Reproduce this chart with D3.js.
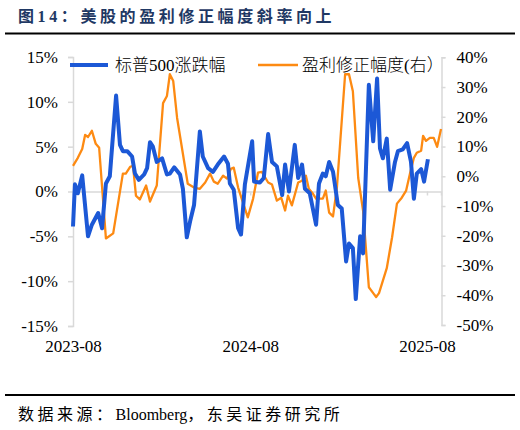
<!DOCTYPE html>
<html lang="zh">
<head>
<meta charset="UTF-8">
<title>美股的盈利修正幅度斜率向上</title>
<script src="https://cdn.jsdelivr.net/npm/d3@7"></script>
<style>
  body { margin: 0; background: #fff; }
  text { font-family: "Liberation Serif", "Noto Sans CJK SC", serif; }
</style>
</head>
<body>
<svg width="520" height="430"></svg>
<script>

    // 标普500涨跌幅 (左轴, %)
    var spxDates = ["2023-08-01","2023-08-05","2023-08-11","2023-08-20","2023-09-01","2023-09-09","2023-09-22","2023-09-30",
        "2023-10-08","2023-10-16","2023-10-29","2023-11-06","2023-11-12","2023-11-21","2023-12-01","2023-12-07","2023-12-15",
        "2023-12-26","2024-01-01","2024-01-07","2024-01-13","2024-01-21","2024-02-01","2024-02-11","2024-02-17","2024-02-26",
        "2024-03-09","2024-03-15","2024-03-23","2024-03-30","2024-04-07","2024-04-19","2024-04-25","2024-05-06","2024-05-16",
        "2024-05-26","2024-06-08","2024-06-16","2024-06-20","2024-06-28","2024-07-07","2024-07-13","2024-07-21","2024-08-05",
        "2024-08-09","2024-08-21","2024-08-29","2024-09-07","2024-09-15","2024-09-25","2024-10-06","2024-10-12","2024-10-20",
        "2024-11-01","2024-11-08","2024-11-16","2024-11-22","2024-12-02","2024-12-15","2024-12-21","2024-12-29","2025-01-04",
        "2025-01-11","2025-01-19","2025-01-29","2025-02-06","2025-02-15","2025-02-21","2025-03-01","2025-03-07","2025-03-16",
        "2025-03-22","2025-04-03","2025-04-12","2025-04-20","2025-04-26","2025-05-02","2025-05-10","2025-05-17","2025-05-27",
        "2025-06-02","2025-06-12","2025-06-21","2025-06-29","2025-07-05","2025-07-11","2025-07-20","2025-07-26","2025-08-03"];
    var spxValues = [-3.9,0.8,-0.2,1.8,-5.0,-3.7,-2.4,-4.1,
        0.9,1.7,10.7,5.2,4.5,4.5,3.9,2.0,1.3,
        1.9,2.6,5.5,5.0,3.3,3.7,1.9,2.0,2.7,
        1.9,0.3,-5.1,-3.3,-1.5,6.7,3.9,2.6,2.2,
        3.0,3.9,3.1,0.9,0.2,-4.1,-4.8,0.8,5.6,
        1.1,1.0,1.5,6.4,3.3,2.8,-0.4,3.0,0.0,
        5.2,1.5,3.0,0.3,-0.2,-3.7,0.9,2.0,1.7,
        3.3,2.2,-1.5,-1.9,-7.8,-5.8,-6.3,-12.0,-5.0,
        -6.9,11.9,5.6,12.6,4.8,3.7,5.9,0.2,3.3,
        4.5,4.7,5.4,3.3,-0.8,2.0,2.5,1.1,3.6];

    // 盈利修正幅度 (右轴, %)
    var revDates = ["2023-08-01","2023-08-11","2023-08-20","2023-08-26","2023-09-01","2023-09-09","2023-09-17","2023-09-24",
        "2023-10-08","2023-10-23","2023-11-12","2023-11-18","2023-11-27","2023-12-03","2023-12-09","2023-12-17","2023-12-30",
        "2024-01-07","2024-01-21","2024-02-03","2024-02-11","2024-02-17","2024-02-24","2024-03-03","2024-03-25","2024-04-07",
        "2024-04-19","2024-04-30","2024-05-10","2024-05-18","2024-05-26","2024-06-06","2024-06-14","2024-06-22","2024-06-28",
        "2024-07-07","2024-07-27","2024-08-07","2024-08-17","2024-08-25","2024-09-07","2024-09-15","2024-09-25","2024-10-04",
        "2024-10-12","2024-10-18","2024-10-26","2024-11-08","2024-11-16","2024-11-24","2024-11-30","2024-12-07","2024-12-15",
        "2024-12-25","2024-12-29","2025-01-04","2025-01-11","2025-01-19","2025-01-27","2025-02-02","2025-02-13","2025-02-21",
        "2025-03-01","2025-03-12","2025-03-22","2025-04-03","2025-04-12","2025-04-18","2025-04-24","2025-05-10","2025-05-21",
        "2025-05-31","2025-06-10","2025-06-19","2025-06-27","2025-07-05","2025-07-11","2025-07-20","2025-07-24","2025-07-30",
        "2025-08-07","2025-08-15","2025-08-22","2025-08-30"];
    var revValues = [3.5,6.2,9.2,13.9,13.2,15.3,10.9,9.6,
        -20.9,-19.2,0.9,0.9,3.2,3.5,-6.5,-7.8,-3.1,
        -8.5,-3.1,24.6,27.0,34.3,32.0,19.6,-2.5,-3.8,
        -4.2,-2.1,0.9,-1.8,-2.5,0.2,-0.8,2.5,2.9,
        -3.8,-13.8,-7.5,1.2,1.5,-2.1,-2.8,-8.2,-7.2,
        -11.5,-6.5,-9.8,-2.1,-1.5,0.2,-4.2,-5.5,-7.5,
        -7.5,-7.5,-4.8,-12.2,-13.5,-3.8,9.6,34.3,34.3,
        28.6,-0.5,-11.5,-37.3,-39.3,-40.6,-39.3,-30.9,-20.5,
        -9.2,-7.2,-4.8,0.9,6.2,7.9,8.6,13.6,11.9,
        12.9,12.9,9.9,15.9];

    var leftTicks = [15, 10, 5, 0, -5, -10, -15];
    var rightTicks = [40, 30, 20, 10, 0, -10, -20, -30, -40, -50];
    var xTickLabels = ["2023-08", "2024-08", "2025-08"];
    var seriesNames = ["标普500涨跌幅", "盈利修正幅度(右）"];

    var blue = "#1c58d6", orange = "#fd8a12", axisGrey = "#d9d9d9";
    var serif = "'Liberation Serif', 'Noto Sans CJK SC', serif";

    var svg = d3.select("svg");
    var parse = d3.timeParse("%Y-%m-%d"),
        parseMonth = d3.timeParse("%Y-%m");

    var x = d3.scaleTime()
        .domain([parse("2023-08-01"), parse("2025-08-30")])
        .range([73, 441]);
    var yL = d3.scaleLinear().domain([-15, 15]).range([326, 57]);
    var yR = d3.scaleLinear().domain([-50, 40]).range([325, 57.3]);

    // 标题
    svg.append("text")
        .attr("x", 18).attr("y", 22)
        .attr("fill", "#1f3864")
        .style("font-size", "16px")
        .style("font-weight", "bold")
        .style("letter-spacing", "3.6px")
        .text("图14：美股的盈利修正幅度斜率向上");

    svg.append("line").attr("x1", 5).attr("x2", 515).attr("y1", 33.5).attr("y2", 33.5)
        .attr("stroke", "#000").attr("stroke-width", 2);
    svg.append("line").attr("x1", 5).attr("x2", 515).attr("y1", 395).attr("y2", 395)
        .attr("stroke", "#000").attr("stroke-width", 2);

    // 左轴
    var gL = svg.append("g").attr("transform", "translate(73,0)")
        .call(d3.axisLeft(yL).tickValues(leftTicks).tickFormat(function(d) { return d + "%"; })
            .tickSize(5).tickPadding(10));
    // 右轴
    var gR = svg.append("g").attr("transform", "translate(441.5,0)")
        .call(d3.axisRight(yR).tickValues(rightTicks).tickFormat(function(d) { return d + "%"; })
            .tickSize(4).tickPadding(11));
    [gL, gR].forEach(function(g) {
        g.attr("font-family", serif).attr("font-size", 17);
        g.select(".domain").attr("stroke", axisGrey).attr("stroke-width", 1.5);
        g.selectAll(".tick line").attr("stroke", axisGrey).attr("stroke-width", 1.5);
        g.selectAll(".tick text").attr("fill", "#000");
    });

    // 零线 + 刻度
    var tickDates = xTickLabels.map(function(s) { return parseMonth(s); });
    var gX = svg.append("g").attr("transform", "translate(0," + yL(0) + ")")
        .call(d3.axisBottom(x).tickValues(tickDates).tickSize(4).tickFormat(""));
    gX.select(".domain").attr("stroke", axisGrey).attr("stroke-width", 1.5);
    gX.selectAll(".tick line").attr("stroke", axisGrey).attr("stroke-width", 1.5);

    // 横轴标签
    var gXL = svg.append("g").attr("transform", "translate(0,326)")
        .call(d3.axisBottom(x).tickValues(tickDates).tickSize(0).tickPadding(14)
            .tickFormat(function(d, i) { return xTickLabels[i]; }));
    gXL.attr("font-family", serif).attr("font-size", 17);
    gXL.select(".domain").remove();
    gXL.selectAll(".tick text").attr("fill", "#000");

    // 折线
    var lineL = d3.line()
        .x(function(d, i) { return x(parse(spxDates[i])); })
        .y(function(d) { return yL(d); });
    var lineR = d3.line()
        .x(function(d, i) { return x(parse(revDates[i])); })
        .y(function(d) { return yR(d); });

    svg.append("path").datum(revValues)
        .attr("d", lineR)
        .attr("fill", "none").attr("stroke", orange)
        .attr("stroke-width", 2.3).attr("stroke-linejoin", "round");

    svg.append("path").datum(spxValues)
        .attr("d", lineL)
        .attr("fill", "none").attr("stroke", blue)
        .attr("stroke-width", 4).attr("stroke-linejoin", "round");

    // 图例
    var legend = [
        { name: seriesNames[0], color: blue, w: 4, x0: 70, x1: 108, tx: 115 },
        { name: seriesNames[1], color: orange, w: 2.3, x0: 258, x1: 298, tx: 302 }
    ];
    var lg = svg.append("g").selectAll("g").data(legend).enter().append("g");
    lg.append("line")
        .attr("x1", function(d) { return d.x0; })
        .attr("x2", function(d) { return d.x1; })
        .attr("y1", 65).attr("y2", 65)
        .attr("stroke", function(d) { return d.color; })
        .attr("stroke-width", function(d) { return d.w; });
    lg.append("text")
        .attr("x", function(d) { return d.tx; })
        .attr("y", 71)
        .style("font-size", "17px")
        .style("font-weight", 300)
        .attr("fill", "#000")
        .text(function(d) { return d.name; });

    // 数据来源
    var src = svg.append("text")
        .attr("x", 18).attr("y", 420)
        .style("font-size", "16px")
        .attr("fill", "#000");
    src.append("tspan").style("letter-spacing", "3.5px").text("数据来源：");
    src.append("tspan").text("Bloomberg");
    src.append("tspan").style("letter-spacing", "3.5px").text("，东吴证券研究所");

</script>
</body>
</html>
